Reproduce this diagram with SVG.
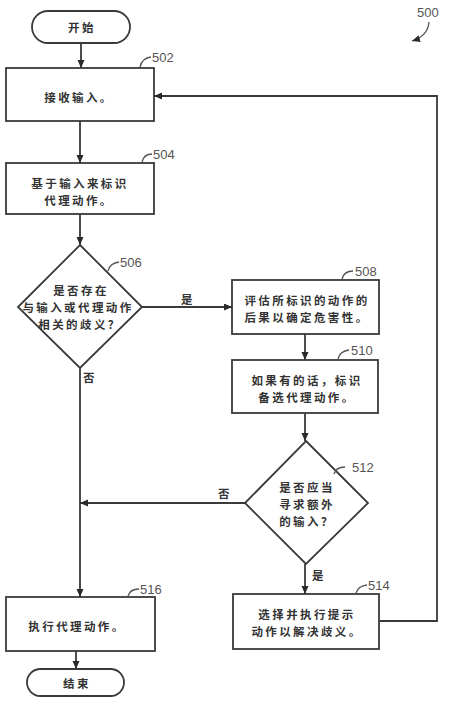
<svg xmlns="http://www.w3.org/2000/svg" width="462" height="710" viewBox="0 0 462 710">
<defs>
<marker id="ah" markerWidth="9" markerHeight="8" refX="8" refY="3.5" orient="auto" markerUnits="userSpaceOnUse">
<path d="M0,0 L8,3.5 L0,7 z" fill="#2a2a2a"/>
</marker>
<style>
.shape{fill:#fff;stroke:#3a3a3a;stroke-width:1.8}
.conn{fill:none;stroke:#3a3a3a;stroke-width:1.8}
.lead{fill:none;stroke:#555;stroke-width:1.3}
.t{font-family:"Noto Sans CJK SC","Noto Sans CJK JP",sans-serif;font-size:11.5px;font-weight:bold;fill:#333;text-anchor:middle;dominant-baseline:central;letter-spacing:2.4px}
.n{font-family:"Liberation Sans",Arial,sans-serif;font-size:13px;fill:#555;dominant-baseline:central}
</style>
</defs>
<rect width="462" height="710" fill="#fff"/>

<g id="connectors">
<line class="conn" x1="81" y1="43" x2="81" y2="68" marker-end="url(#ah)"/>
<line class="conn" x1="80" y1="121" x2="80" y2="163" marker-end="url(#ah)"/>
<line class="conn" x1="80" y1="214" x2="80" y2="245" marker-end="url(#ah)"/>
<line class="conn" x1="142" y1="307" x2="232" y2="307" marker-end="url(#ah)"/>
<line class="conn" x1="80" y1="367" x2="80" y2="597" marker-end="url(#ah)"/>
<line class="conn" x1="305" y1="334" x2="305" y2="360" marker-end="url(#ah)"/>
<line class="conn" x1="305" y1="413" x2="305" y2="441" marker-end="url(#ah)"/>
<line class="conn" x1="245" y1="503" x2="80" y2="503" marker-end="url(#ah)"/>
<line class="conn" x1="305" y1="564" x2="305" y2="594" marker-end="url(#ah)"/>
<polyline class="conn" points="379,621 437,621 437,96 154,96" marker-end="url(#ah)"/>
<line class="conn" x1="76" y1="651" x2="76" y2="669" marker-end="url(#ah)"/>
<text class="t" x="188" y="299">是</text>
<text class="t" x="90" y="377">否</text>
<text class="t" x="225" y="493">否</text>
<text class="t" x="319" y="575">是</text>
</g>

<g id="label500">
<text class="n" x="417" y="12">500</text>
<path class="lead" d="M429,22 Q428,36 412,41" marker-end="url(#ah)"/>
</g>

<g id="start">
<rect class="shape" x="32" y="11" width="98" height="32" rx="16"/>
<text class="t" x="82" y="27">开始</text>
</g>

<g id="n502">
<rect class="shape" x="6" y="68" width="148" height="53"/>
<text class="t" x="79" y="97">接收输入。</text>
<path class="lead" d="M140,67 Q142,58 151,57"/>
<text class="n" x="152" y="57">502</text>
</g>

<g id="n504">
<rect class="shape" x="6" y="163" width="148" height="51"/>
<text class="t" x="80" y="183">基于输入来标识</text>
<text class="t" x="79" y="200">代理动作。</text>
<path class="lead" d="M142,162 Q144,154 152,154"/>
<text class="n" x="153" y="154">504</text>
</g>

<g id="n506">
<polygon class="shape" points="80,245 142,307 80,368 18,307"/>
<text class="t" x="81" y="290">是否存在</text>
<text class="t" x="78" y="307">与输入或代理动作</text>
<text class="t" x="80" y="324">相关的歧义？</text>
<path class="lead" d="M108,271 Q110,263 119,262"/>
<text class="n" x="120" y="262">506</text>
</g>

<g id="n508">
<rect class="shape" x="232" y="280" width="147" height="54"/>
<text class="t" x="307" y="300">评估所标识的动作的</text>
<text class="t" x="307" y="317">后果以确定危害性。</text>
<path class="lead" d="M342,279 Q344,271 353,271"/>
<text class="n" x="355" y="271">508</text>
</g>

<g id="n510">
<rect class="shape" x="232" y="360" width="146" height="53"/>
<text class="t" x="307" y="380">如果有的话，标识</text>
<text class="t" x="307" y="397">备选代理动作。</text>
<path class="lead" d="M338,359 Q340,351 349,350"/>
<text class="n" x="351" y="350">510</text>
</g>

<g id="n512">
<polygon class="shape" points="306,441 368,503 306,564 245,503"/>
<text class="t" x="307" y="487">是否应当</text>
<text class="t" x="307" y="504">寻求额外</text>
<text class="t" x="307" y="521">的输入？</text>
<path class="lead" d="M334,474 Q336,467 345,467"/>
<text class="n" x="352" y="467">512</text>
</g>

<g id="n514">
<rect class="shape" x="233" y="594" width="146" height="55"/>
<text class="t" x="307" y="614">选择并执行提示</text>
<text class="t" x="307" y="631">动作以解决歧义。</text>
<path class="lead" d="M356,593 Q358,586 367,585"/>
<text class="n" x="368" y="585">514</text>
</g>

<g id="n516">
<rect class="shape" x="6" y="597" width="149" height="54"/>
<text class="t" x="77" y="626">执行代理动作。</text>
<path class="lead" d="M128,596 Q130,589 139,589"/>
<text class="n" x="140" y="589">516</text>
</g>

<g id="end">
<rect class="shape" x="27" y="669" width="97" height="27" rx="13.5"/>
<text class="t" x="77" y="683">结束</text>
</g>
</svg>
